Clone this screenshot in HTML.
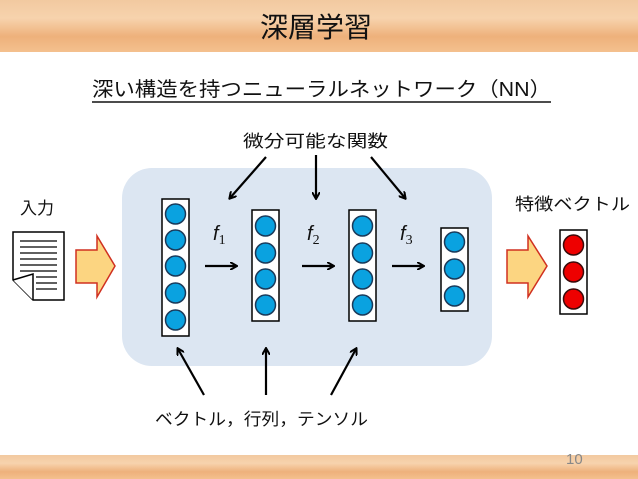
<!DOCTYPE html>
<html><head><meta charset="utf-8"><style>
html,body{margin:0;padding:0;background:#fff}
body{width:638px;height:479px;overflow:hidden;position:relative}
svg{position:absolute;left:0;top:0}
text{font-family:"Liberation Sans","Noto Sans CJK JP",sans-serif}
</style></head><body>
<svg width="638" height="479" viewBox="0 0 638 479">
<defs>
<linearGradient id="wood" x1="0" y1="0" x2="0" y2="1">
<stop offset="0" stop-color="#f2c9a0"/><stop offset="0.35" stop-color="#f7d3ad"/><stop offset="0.7" stop-color="#eeb17b"/><stop offset="1" stop-color="#f4c08e"/>
</linearGradient>
<marker id="ah" markerWidth="8" markerHeight="8" refX="6" refY="4" orient="auto" markerUnits="userSpaceOnUse">
<path d="M0,0 L7,4 L0,8" fill="none" stroke="#000" stroke-width="2"/>
</marker>
</defs>
<rect x="0" y="0" width="638" height="52" fill="url(#wood)"/>
<rect x="0" y="455" width="638" height="24" fill="url(#wood)"/>
<text x="316" y="37" font-size="28" text-anchor="middle" fill="#111">深層学習</text>
<text x="92" y="96" font-size="20" fill="#111" textLength="459" lengthAdjust="spacingAndGlyphs">深い構造を持つニューラルネットワーク（NN）</text>
<line x1="92" y1="102" x2="551" y2="102" stroke="#111" stroke-width="1.5"/>
<text x="243" y="147" font-size="17" fill="#111" textLength="145" lengthAdjust="spacingAndGlyphs">微分可能な関数</text>
<rect x="122" y="168" width="370" height="198" rx="30" fill="#dce6f2"/>
<text x="20" y="214" font-size="17" fill="#111">入力</text>
<text x="515" y="210" font-size="17" fill="#111" textLength="115" lengthAdjust="spacingAndGlyphs">特徴ベクトル</text>
<path d="M13,232 H64 V300 H33 L13,280 Z" fill="#fff" stroke="#000" stroke-width="1.5"/>
<path d="M13,280 L33,274 L33,300" fill="#fff" stroke="#000" stroke-width="1.5"/>
<g stroke="#000" stroke-width="1.3">
<line x1="20" y1="241" x2="57" y2="241"/><line x1="20" y1="247" x2="57" y2="247"/><line x1="20" y1="253" x2="57" y2="253"/><line x1="20" y1="259" x2="57" y2="259"/><line x1="20" y1="265" x2="57" y2="265"/><line x1="20" y1="271" x2="57" y2="271"/><line x1="36" y1="277" x2="57" y2="277"/><line x1="36" y1="283" x2="57" y2="283"/><line x1="36" y1="289" x2="57" y2="289"/>
</g>
<path d="M76,250 H97 V236 L115,266 L97,297 V283 H76 Z" fill="#fcd581" stroke="#d03020" stroke-width="1.5"/>
<path d="M507,250 H528 V236 L547,266 L528,297 V283 H507 Z" fill="#fcd581" stroke="#d03020" stroke-width="1.5"/>
<g stroke="#000" stroke-width="1.5">
<rect x="162" y="199" width="27" height="137" fill="#fff"/>
<rect x="252" y="210" width="27" height="111" fill="#fff"/>
<rect x="349" y="210" width="27" height="111" fill="#fff"/>
<rect x="441" y="228" width="27" height="83" fill="#fff"/>
<rect x="560" y="230" width="27" height="84" fill="#fff"/>
</g>
<g fill="#0aa2e0" stroke="#1a3a5a" stroke-width="1.5">
<circle cx="175.5" cy="214" r="10"/><circle cx="175.5" cy="240" r="10"/><circle cx="175.5" cy="266" r="10"/><circle cx="175.5" cy="293" r="10"/><circle cx="175.5" cy="320" r="10"/>
<circle cx="265.5" cy="226" r="10"/><circle cx="265.5" cy="253" r="10"/><circle cx="265.5" cy="279" r="10"/><circle cx="265.5" cy="305" r="10"/>
<circle cx="362.5" cy="226" r="10"/><circle cx="362.5" cy="253" r="10"/><circle cx="362.5" cy="279" r="10"/><circle cx="362.5" cy="305" r="10"/>
<circle cx="454.5" cy="242" r="10"/><circle cx="454.5" cy="269" r="10"/><circle cx="454.5" cy="296" r="10"/>
</g>
<g fill="#e00" stroke="#3a0a0a" stroke-width="1.5">
<circle cx="573.5" cy="245" r="10"/><circle cx="573.5" cy="272" r="10"/><circle cx="573.5" cy="299" r="10"/>
</g>
<g font-family="Liberation Serif,serif" font-style="italic" font-size="20" fill="#111">
<text x="213" y="240" font-family="Liberation Serif,serif">f<tspan font-style="normal" font-size="14" dy="4" font-family="Liberation Serif,serif">1</tspan></text>
<text x="307" y="240" font-family="Liberation Serif,serif">f<tspan font-style="normal" font-size="14" dy="4" font-family="Liberation Serif,serif">2</tspan></text>
<text x="400" y="240" font-family="Liberation Serif,serif">f<tspan font-style="normal" font-size="14" dy="4" font-family="Liberation Serif,serif">3</tspan></text>
</g>
<g stroke="#000" stroke-width="2.2" marker-end="url(#ah)">
<line x1="205" y1="266" x2="236" y2="266"/>
<line x1="302" y1="266" x2="333" y2="266"/>
<line x1="392" y1="266" x2="423" y2="266"/>
<line x1="266" y1="157" x2="230" y2="198"/>
<line x1="316" y1="155" x2="316" y2="198"/>
<line x1="371" y1="157" x2="405" y2="198"/>
<line x1="204" y1="395" x2="178" y2="349"/>
<line x1="266" y1="395" x2="266" y2="349"/>
<line x1="331" y1="395" x2="356" y2="349"/>
</g>
<text x="155" y="425" font-size="17" fill="#111" textLength="213" lengthAdjust="spacingAndGlyphs">ベクトル，行列，テンソル</text>
<text x="566" y="464" font-size="15" fill="#888">10</text>
</svg>
</body></html>
